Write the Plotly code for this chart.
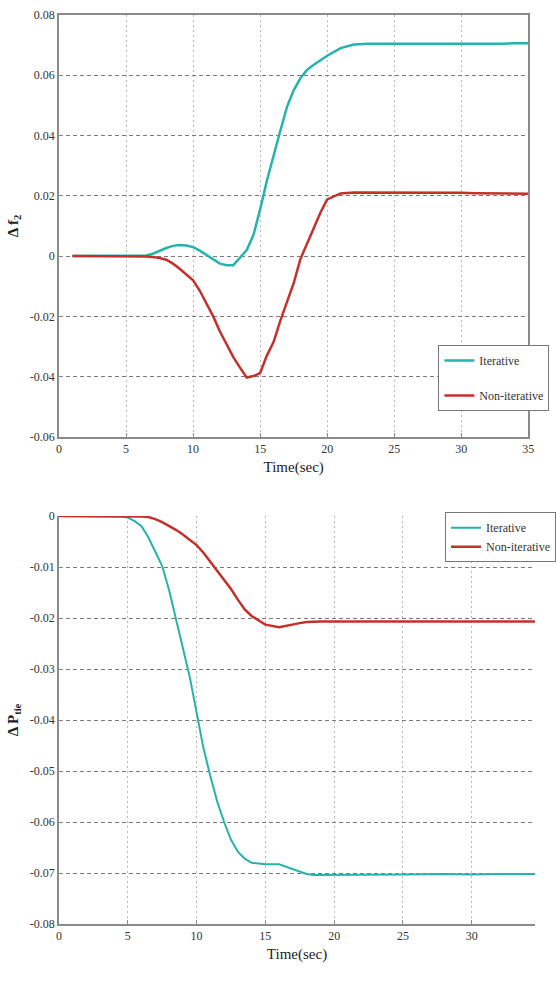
import plotly.graph_objects as go

# ---- Top panel data (Δf2) ----
t_top = [1, 2, 3, 4, 5, 6, 6.5, 7, 7.5, 8, 8.5, 9, 9.5, 10, 10.5, 11, 11.5, 12, 12.5, 13,
         13.5, 14, 14.5, 15, 15.5, 16, 16.5, 17, 17.5, 18, 18.5, 19, 19.5, 20, 21, 22, 23,
         24, 25, 26, 27, 28, 29, 30, 31, 32, 33, 34, 35]
iter_top = [0, 0, 0, 0, 0, 0, 0.0002, 0.0008, 0.0018, 0.0027, 0.0034, 0.0037, 0.0035, 0.0030,
            0.0018, 0.0003, -0.0012, -0.0025, -0.0030, -0.0030, -0.0005, 0.0020, 0.0070,
            0.0155, 0.0250, 0.0335, 0.0415, 0.0495, 0.0550, 0.0590, 0.0618, 0.0635, 0.0650,
            0.0665, 0.0690, 0.0702, 0.0705, 0.0705, 0.0705, 0.0705, 0.0705, 0.0705, 0.0705,
            0.0703, 0.0705, 0.0705, 0.0705, 0.0706, 0.0706]
noniter_top = [0, 0, 0, 0, 0, 0, -0.0001, -0.0003, -0.0006, -0.0012, -0.0025, -0.0042, -0.0060,
               -0.0080, -0.0115, -0.0155, -0.0200, -0.0250, -0.0295, -0.0335, -0.0370, -0.0403,
               -0.0398, -0.0388, -0.0330, -0.0285, -0.0215, -0.0150, -0.0090, -0.0010, 0.0040,
               0.0095, 0.0145, 0.0188, 0.0208, 0.0211, 0.0211, 0.0210, 0.0210, 0.0210, 0.0210,
               0.0211, 0.0212, 0.0210, 0.0209, 0.0208, 0.0208, 0.0207, 0.0207]

# ---- Bottom panel data (ΔPtie) ----
t_bot = [0, 1, 2, 3, 4, 4.5, 5, 5.5, 6, 6.5, 7, 7.5, 8, 8.5, 9, 9.5, 10, 10.5, 11, 11.5, 12,
         12.5, 13, 13.5, 14, 15, 16, 17, 17.5, 18, 18.5, 19, 20, 22, 25, 28, 30, 32, 35]
iter_bot = [0, 0, 0, 0, 0, -0.0001, -0.0003, -0.0010, -0.0020, -0.0042, -0.0070, -0.0098,
            -0.0145, -0.0200, -0.0255, -0.0315, -0.0385, -0.0455, -0.0510, -0.0560, -0.0600,
            -0.0635, -0.0658, -0.0672, -0.0680, -0.0683, -0.0683, -0.0692, -0.0698, -0.0702,
            -0.0704, -0.0704, -0.0703, -0.0703, -0.0703, -0.0702, -0.0703, -0.0702, -0.0702]
noniter_bot = [0, 0, 0, 0, 0, 0, 0, 0, -0.0001, -0.0002, -0.0006, -0.0012, -0.0019, -0.0027,
               -0.0036, -0.0046, -0.0057, -0.0072, -0.0090, -0.0106, -0.0125, -0.0143, -0.0164,
               -0.0183, -0.0196, -0.0213, -0.0218, -0.0212, -0.0210, -0.0208, -0.0207, -0.0207,
               -0.0207, -0.0207, -0.0207, -0.0207, -0.0207, -0.0207, -0.0207]

x_ticks = [0, 5, 10, 15, 20, 25, 30, 35]
y_top_ticks = [0.08, 0.06, 0.04, 0.02, 0, -0.02, -0.04, -0.06]
y_top_labels = ["0.08", "0.06", "0.04", "0.02", "0", "-0.02", "-0.04", "-0.06"]
y_bot_ticks = [0, -0.01, -0.02, -0.03, -0.04, -0.05, -0.06, -0.07, -0.08]
y_bot_labels = ["0", "-0.01", "-0.02", "-0.03", "-0.04", "-0.05", "-0.06", "-0.07", "-0.08"]

CYAN = "#25b3ad"
RED = "#c4302b"
FONT = "Liberation Serif, Times New Roman, serif"

fig = go.Figure()
fig.add_trace(go.Scatter(x=t_top, y=iter_top, mode="lines", name="Iterative",
                         line=dict(color=CYAN, width=2.5), xaxis="x", yaxis="y",
                         legend="legend", legendgroup="a"))
fig.add_trace(go.Scatter(x=t_top, y=noniter_top, mode="lines", name="Non-iterative",
                         line=dict(color=RED, width=2.5), xaxis="x", yaxis="y",
                         legend="legend", legendgroup="b"))
fig.add_trace(go.Scatter(x=t_bot, y=iter_bot, mode="lines", name="Iterative",
                         line=dict(color=CYAN, width=2), xaxis="x2", yaxis="y2",
                         legend="legend2"))
fig.add_trace(go.Scatter(x=t_bot, y=noniter_bot, mode="lines", name="Non-iterative",
                         line=dict(color=RED, width=2.5), xaxis="x2", yaxis="y2",
                         legend="legend2"))

common = dict(showline=True, linecolor="#8a8a8a", linewidth=1.5,
              showgrid=True, gridwidth=1, zeroline=False,
              ticks="inside", ticklen=4, tickcolor="#8a8a8a",
              tickfont=dict(family=FONT, size=12, color="#333"))
xgrid = dict(gridcolor="#b5b5b5", griddash="2px,3px")
ygrid = dict(gridcolor="#7a7a7a", griddash="4px,3px")
title_font = dict(family=FONT, size=15, color="#222")

fig.update_layout(
    width=556, height=984,
    margin=dict(l=59, r=0, t=15, b=60),
    paper_bgcolor="white", plot_bgcolor="white",
    font=dict(family=FONT, color="#333"),
    xaxis=dict(domain=[0, 0.986], range=[0, 35], tickvals=x_ticks, anchor="y", mirror=True,
               title=dict(text="Time(sec)", font=title_font, standoff=6),
               **common, **xgrid),
    yaxis=dict(domain=[0.5358, 1.0], range=[-0.06, 0.08], tickvals=y_top_ticks,
               ticktext=y_top_labels, anchor="x", mirror=True,
               title=dict(text="<b>Δ f<sub>2</sub></b>", font=title_font, standoff=8),
               **common, **ygrid),
    xaxis2=dict(domain=[0, 1.0], range=[0, 34.6], tickvals=x_ticks, anchor="y2",
                title=dict(text="Time(sec)", font=title_font, standoff=6),
                **common, **xgrid),
    yaxis2=dict(domain=[0, 0.4488], range=[-0.08, 0], tickvals=y_bot_ticks,
                ticktext=y_bot_labels, anchor="x2",
                title=dict(text="<b>Δ P<sub>tie</sub></b>", font=title_font, standoff=8),
                **common, **ygrid),
    legend=dict(x=0.797, y=0.637, xanchor="left", yanchor="top", bgcolor="white",
                bordercolor="#777", borderwidth=1, tracegroupgap=16,
                font=dict(family=FONT, size=12, color="#333"), itemwidth=30),
    legend2=dict(x=0.811, y=0.453, xanchor="left", yanchor="top", bgcolor="white",
                 bordercolor="#777", borderwidth=1,
                 font=dict(family=FONT, size=12, color="#333"), itemwidth=30),
)

fig.write_html("out.html")
